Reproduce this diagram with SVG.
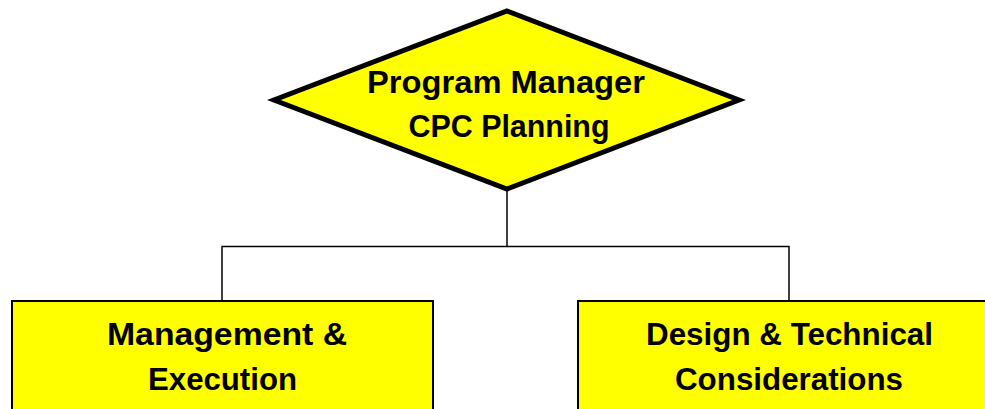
<svg xmlns="http://www.w3.org/2000/svg" width="985" height="409" viewBox="0 0 985 409">
<style>
.box{fill:#ffff00;stroke:#000;stroke-width:2}
.dia{fill:#ffff00;stroke:#000;stroke-width:5;stroke-linejoin:miter}
.t{font-family:"Liberation Sans",Arial,sans-serif;font-weight:bold;font-size:31px;fill:#000;text-anchor:middle}
.c{fill:none;stroke:#000;stroke-width:1.5}
</style>
<rect width="985" height="409" fill="#fff"/>
<g id="connectors">
<path class="c" d="M507 190 V246.5 M222 301 V246.5 H789 V301"/>
</g>
<g id="node-program-manager">
<polygon class="dia" points="507,11 739,100 507,189 274,100"/>
<text class="t" x="506" y="93" textLength="278" lengthAdjust="spacingAndGlyphs">Program Manager</text>
<text class="t" x="509" y="137" textLength="201" lengthAdjust="spacingAndGlyphs">CPC Planning</text>
</g>
<g id="node-management">
<rect class="box" x="12" y="301" width="421" height="130"/>
<text class="t" x="227" y="345" textLength="240" lengthAdjust="spacingAndGlyphs">Management &amp;</text>
<text class="t" x="222.5" y="390" textLength="149" lengthAdjust="spacingAndGlyphs">Execution</text>
</g>
<g id="node-design">
<rect class="box" x="578" y="301" width="430" height="130"/>
<text class="t" x="789.5" y="345" textLength="287" lengthAdjust="spacingAndGlyphs">Design &amp; Technical</text>
<text class="t" x="789" y="390" textLength="228" lengthAdjust="spacingAndGlyphs">Considerations</text>
</g>
</svg>
